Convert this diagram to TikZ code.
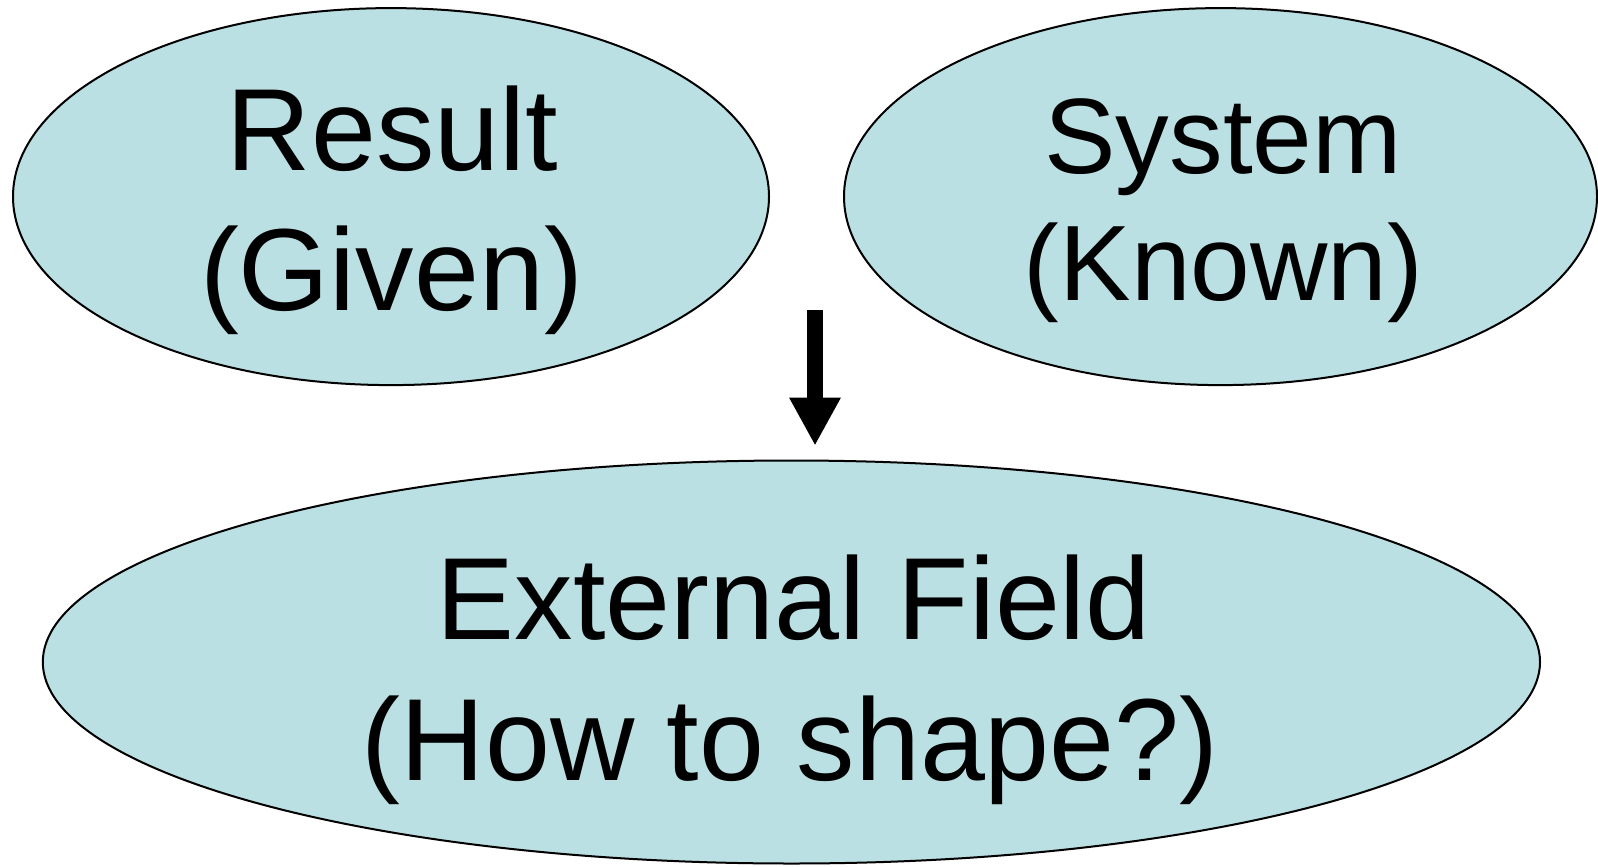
\documentclass[tikz,border=0pt]{standalone}
\usepackage{fontspec}
\setmainfont{Liberation Sans}
\usepackage{xcolor}
\definecolor{bubbleFill}{HTML}{BBE0E3}
\usetikzlibrary{shapes.geometric,arrows.meta}

\begin{document}
\begin{tikzpicture}[x=0.5pt, y=-0.5pt,
  bubble/.style={ellipse, draw=black, line width=1pt, fill=bubbleFill, inner sep=0pt},
  word/.style={anchor=base, inner sep=0pt, font=\fontsize{58.4}{70}\selectfont},
  smallword/.style={word, font=\fontsize{53.6}{64}\selectfont},
  flow/.style={-{Triangle[length=24pt,width=24pt]}, line width=8pt}]
  \useasboundingbox (0,0) rectangle (1598,866);
  % what we have
  \node[bubble, minimum width=378pt, minimum height=188.5pt] (result) at (391,196.6) {};
  \node[word] (result-name) at (392.5,170) {Result};
  \node[word] (result-note) at (391.5,310.7) {(Given)};
  \node[bubble, minimum width=376.5pt, minimum height=188.5pt] (system) at (1220.5,196.6) {};
  \node[smallword] (system-name) at (1223,173.3) {System};
  \node[smallword] (system-note) at (1223.5,300.7) {(Known)};
  % what we look for
  \node[bubble, minimum width=748.6pt, minimum height=201.5pt] (field) at (791.4,662) {};
  \node[word] (field-name) at (794,639) {External Field};
  \node[word] (field-note) at (790.4,780) {(How to shape?)};
  % the arrow between them
  \coordinate (from) at (815,310);
  \coordinate (to) at (815,445.7);
  \draw[flow] (from) -- (to);
\end{tikzpicture}
\end{document}
